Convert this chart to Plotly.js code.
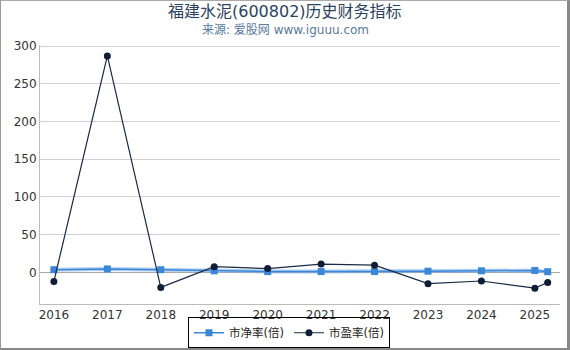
<!DOCTYPE html>
<html><head><meta charset="utf-8">
<script src="https://cdn.plot.ly/plotly-3.0.1.min.js"></script>
<style>
html,body{margin:0;padding:0;background:#fff;}
#wrap{width:570px;height:350px;position:relative;}
#chart{position:absolute;left:0;top:0;width:570px;height:350px;}
#frame{position:absolute;left:0;top:0;width:570px;height:350px;box-sizing:border-box;
  border-left:1px solid #999;border-top:1px solid #aaa;border-right:3px solid #888;border-bottom:2px solid #888;pointer-events:none;}
</style></head>
<body><div id="wrap"><div id="chart"></div><div id="frame"></div></div>
<script>
const years = [2016, 2017, 2018, 2019, 2020, 2021, 2022, 2023, 2024, 2025, 2025.24];
const pb = [3.5, 4.5, 3.5, 2, 1, 1, 1, 1.5, 2, 2.5, 0.8];
const pe = [-12, 287, -20, 7.5, 5, 11, 9.5, -15, -11.5, -21, -13.5];
const xTicks = [2016, 2017, 2018, 2019, 2020, 2021, 2022, 2023, 2024, 2025];
const yTicks = [0, 50, 100, 150, 200, 250, 300];
const titleText = '福建水泥(600802)历史财务指标';
const subText = '来源: 爱股网 www.iguuu.com';
const pbName = '市净率(倍)';
const peName = '市盈率(倍)';

const font = 'DejaVu Sans, Noto Sans CJK SC, sans-serif';
const traces = [
  {x: years, y: pb, mode: 'lines', line: {color: 'rgba(120,170,230,0.55)', width: 4}, hoverinfo: 'skip', showlegend: false},
  {x: years, y: pb, name: pbName, mode: 'lines+markers', line: {color: '#3a87d8', width: 1.5},
   marker: {symbol: 'square', size: 7, color: '#3a87d8'}},
  {x: years, y: pe, name: peName, mode: 'lines+markers', line: {color: '#1a2a45', width: 1.2},
   marker: {symbol: 'circle', size: 7, color: '#0f1d36'}}
];
const layout = {
  width: 570, height: 350,
  margin: {l: 40, r: 10, t: 45, b: 46},
  paper_bgcolor: '#fff', plot_bgcolor: '#fff',
  font: {family: font, size: 12, color: '#333'},
  showlegend: true,
  legend: {orientation: 'h', xref: 'container', yref: 'container', x: 0.507, xanchor: 'center', y: 0.005, yanchor: 'bottom',
    bgcolor: 'rgba(0,0,0,0)', bordercolor: '#000', borderwidth: 1, font: {size: 11.5, color: '#222'}, itemwidth: 30, tracegroupgap: 0},
  xaxis: {range: [2015.74, 2025.47], tickvals: xTicks, ticktext: xTicks.map(String),
    showgrid: false, zeroline: false, showline: true, linecolor: '#bbb', linewidth: 1,
    ticks: '', tickfont: {size: 12, color: '#333'}, fixedrange: true},
  yaxis: {range: [-42, 301.5], tickvals: yTicks, showgrid: true, gridcolor: '#d0d0d0',
    zeroline: true, zerolinecolor: '#aaa', zerolinewidth: 1, showline: true, linecolor: '#bbb',
    ticks: '', tickfont: {size: 12, color: '#333'}, fixedrange: true},
  annotations: [
    {text: titleText, xref: 'paper', yref: 'paper', x: 0.4712, xanchor: 'center', y: 1, yanchor: 'bottom',
     yshift: 22, showarrow: false, font: {size: 16, color: '#2b4360'}},
    {text: subText, xref: 'paper', yref: 'paper', x: 0.4712, xanchor: 'center', y: 1, yanchor: 'bottom',
     yshift: 6, showarrow: false, font: {size: 12, color: '#5878a0'}}
  ]
};
Plotly.newPlot('chart', traces, layout, {displayModeBar: false, staticPlot: true});
</script></body></html>
